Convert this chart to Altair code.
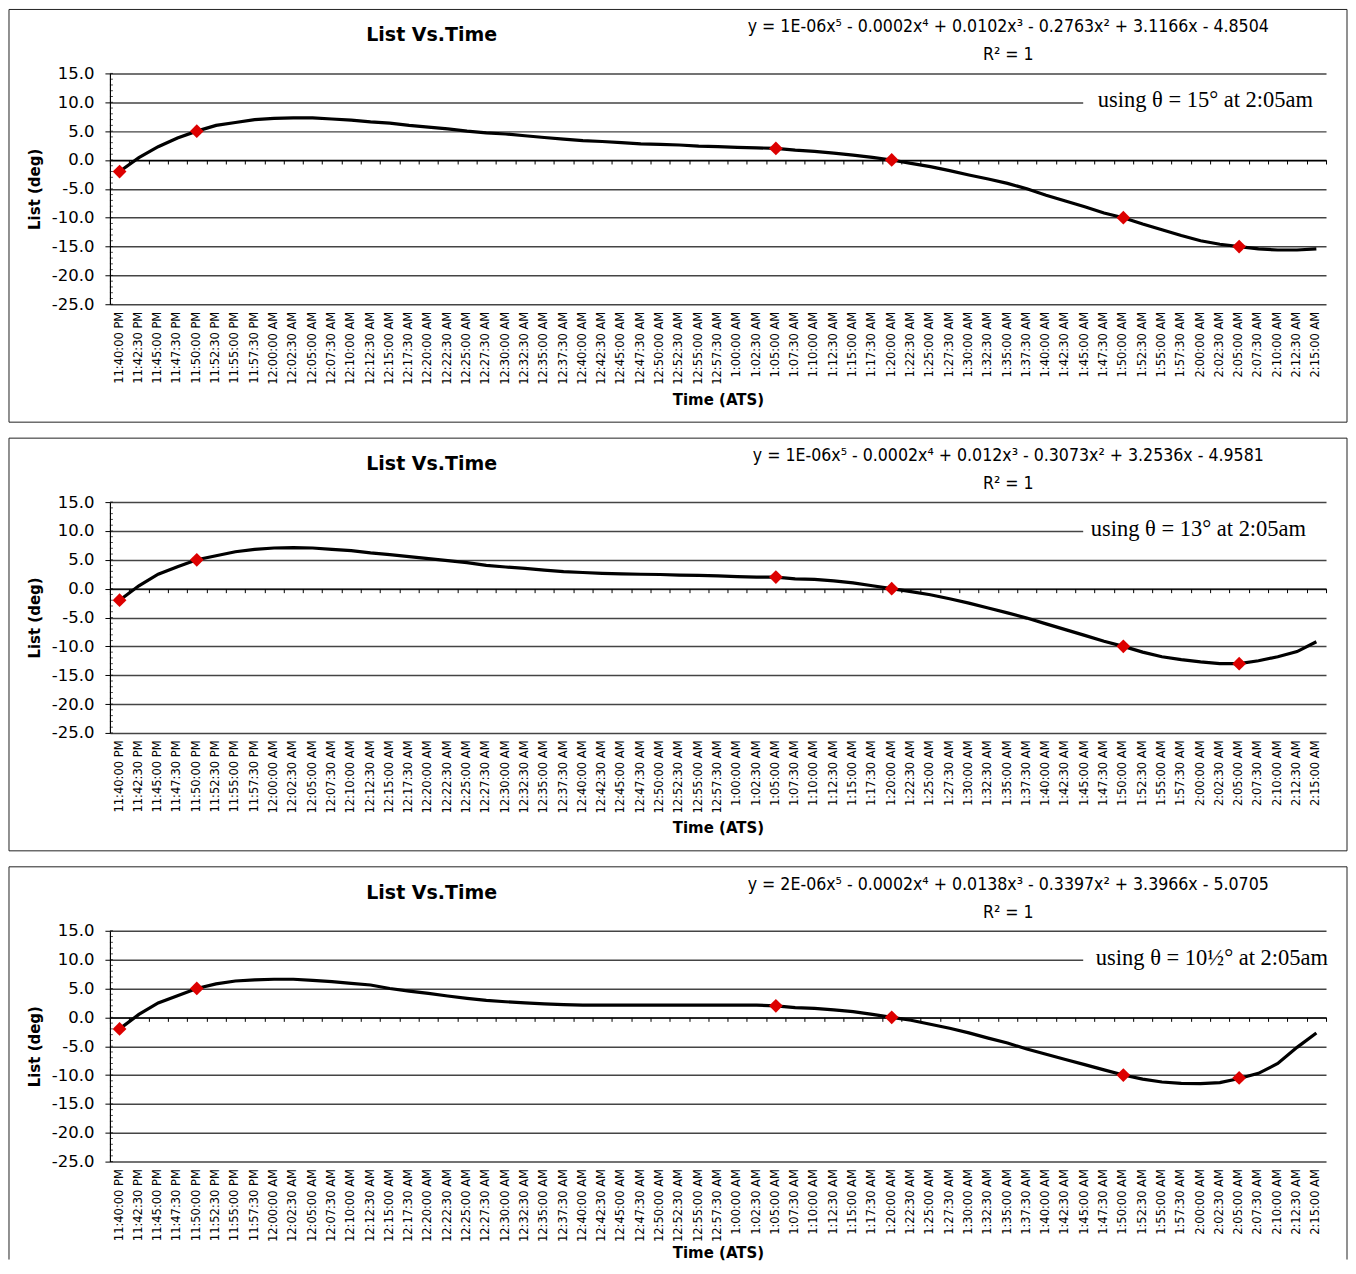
import altair as alt
import pandas as pd

# ---------------- data ----------------
times = [
    "11:40:00 PM", "11:42:30 PM", "11:45:00 PM", "11:47:30 PM", "11:50:00 PM", "11:52:30 PM",
    "11:55:00 PM", "11:57:30 PM", "12:00:00 AM", "12:02:30 AM", "12:05:00 AM", "12:07:30 AM",
    "12:10:00 AM", "12:12:30 AM", "12:15:00 AM", "12:17:30 AM", "12:20:00 AM", "12:22:30 AM",
    "12:25:00 AM", "12:27:30 AM", "12:30:00 AM", "12:32:30 AM", "12:35:00 AM", "12:37:30 AM",
    "12:40:00 AM", "12:42:30 AM", "12:45:00 AM", "12:47:30 AM", "12:50:00 AM", "12:52:30 AM",
    "12:55:00 AM", "12:57:30 AM", "1:00:00 AM", "1:02:30 AM", "1:05:00 AM", "1:07:30 AM",
    "1:10:00 AM", "1:12:30 AM", "1:15:00 AM", "1:17:30 AM", "1:20:00 AM", "1:22:30 AM",
    "1:25:00 AM", "1:27:30 AM", "1:30:00 AM", "1:32:30 AM", "1:35:00 AM", "1:37:30 AM",
    "1:40:00 AM", "1:42:30 AM", "1:45:00 AM", "1:47:30 AM", "1:50:00 AM", "1:52:30 AM",
    "1:55:00 AM", "1:57:30 AM", "2:00:00 AM", "2:02:30 AM", "2:05:00 AM", "2:07:30 AM",
    "2:10:00 AM", "2:12:30 AM", "2:15:00 AM",
]

fit_15 = [
    -2.0, 0.4, 2.3, 3.8, 5.0, 6.0, 6.5, 7.0, 7.2, 7.3, 7.3, 7.1, 6.9, 6.6, 6.4, 6.0,
    5.7, 5.4, 5.0, 4.7, 4.5, 4.2, 3.9, 3.6, 3.35, 3.2, 3.0, 2.8, 2.7, 2.6, 2.4, 2.3,
    2.2, 2.1, 2.0, 1.7, 1.5, 1.2, 0.85, 0.45, 0.0, -0.6, -1.15, -1.85, -2.6, -3.3,
    -4.05, -5.0, -6.1, -7.1, -8.1, -9.2, -10.0, -11.1, -12.1, -13.1, -14.0, -14.6,
    -15.0, -15.4, -15.6, -15.6, -15.4,
]
fit_13 = [
    -2.0, 0.5, 2.5, 3.8, 5.0, 5.7, 6.4, 6.8, 7.05, 7.1, 7.05, 6.8, 6.6, 6.2, 5.9, 5.55,
    5.2, 4.85, 4.5, 4.05, 3.75, 3.5, 3.2, 2.95, 2.8, 2.65, 2.55, 2.5, 2.45, 2.35, 2.3, 2.2,
    2.1, 2.0, 2.0, 1.7, 1.6, 1.35, 1.0, 0.5, 0.0, -0.5, -1.05, -1.75, -2.5, -3.35,
    -4.2, -5.1, -6.1, -7.1, -8.1, -9.1, -10.0, -11.0, -11.8, -12.3, -12.7, -13.0,
    -13.0, -12.5, -11.8, -10.9, -9.2,
]
fit_105 = [
    -2.0, 0.5, 2.5, 3.75, 5.0, 5.8, 6.3, 6.5, 6.6, 6.6, 6.4, 6.2, 5.9, 5.6, 5.0, 4.55,
    4.15, 3.7, 3.3, 2.95, 2.7, 2.5, 2.35, 2.2, 2.1, 2.1, 2.1, 2.1, 2.1, 2.1, 2.1, 2.1,
    2.1, 2.1, 2.0, 1.7, 1.55, 1.3, 1.0, 0.5, 0.0, -0.5, -1.2, -1.9, -2.7, -3.6,
    -4.45, -5.5, -6.4, -7.3, -8.2, -9.1, -10.0, -10.7, -11.2, -11.45, -11.5, -11.3,
    -10.6, -9.7, -8.0, -5.2, -2.7,
]

point_times = ["11:40:00 PM", "11:50:00 PM", "1:05:00 AM", "1:20:00 AM", "1:50:00 AM", "2:05:00 AM"]
obs_15 = [-2.0, 5.0, 2.0, 0.0, -10.0, -15.0]
obs_13 = [-2.0, 5.0, 2.0, 0.0, -10.0, -13.0]
obs_105 = [-2.0, 5.0, 2.0, 0.0, -10.0, -10.5]

equations = [
    "y = 1E-06x\u2075 - 0.0002x\u2074 + 0.0102x\u00b3 - 0.2763x\u00b2 + 3.1166x - 4.8504",
    "y = 1E-06x\u2075 - 0.0002x\u2074 + 0.012x\u00b3 - 0.3073x\u00b2 + 3.2536x - 4.9581",
    "y = 2E-06x\u2075 - 0.0002x\u2074 + 0.0138x\u00b3 - 0.3397x\u00b2 + 3.3966x - 5.0705",
]
notes = [
    "using \u03b8 = 15\u00b0 at 2:05am",
    "using \u03b8 = 13\u00b0 at 2:05am",
    "using \u03b8 = 10\u00bd\u00b0 at 2:05am",
]
y_ticks = [-25, -20, -15, -10, -5, 0, 5, 10, 15]
y_minor_ticks = list(range(-25, 16))

# ---------------- layout ----------------
W, H = 1217, 231
YMIN, YMAX = -25, 15
SANS = "DejaVu Sans"
FRAME_TOP = -64
FRAME_LEFT = -101
FRAME_RIGHT = 1238


def panel(fit_vals, obs_vals, eq, note, note_right, frame_bottom, bottom_edge=True, title_pad=8):
    line_df = pd.DataFrame({"time": times, "list": fit_vals})
    pt_df = pd.DataFrame({"time": point_times, "list": obs_vals})
    minor_df = pd.DataFrame({"v": y_minor_ticks})
    one = pd.DataFrame({"k": [0]})

    xscale = alt.Scale(type="band", domain=times, paddingInner=0, paddingOuter=0)
    yscale = alt.Scale(domain=[YMIN, YMAX], nice=False, zero=False)

    line = alt.Chart(line_df).mark_line(color="black", strokeWidth=3.2).encode(
        x=alt.X("time:N", scale=xscale, title="Time (ATS)",
                axis=alt.Axis(orient="bottom", labelAngle=270, labelFont=SANS, labelFontSize=11.5,
                              labelColor="black", labelPadding=7, labelOverlap=False,
                              ticks=False, domain=False, grid=False,
                              titleFont=SANS, titleFontSize=15, titleFontWeight="bold",
                              titleColor="black", titlePadding=title_pad)),
        y=alt.Y("list:Q", scale=yscale, title="List (deg)",
                axis=alt.Axis(orient="left", values=y_ticks,
                              labelExpr="(datum.value < 0 ? '-' : '') + format(abs(datum.value), '.1f')",
                              grid=True, gridColor="#444444", gridWidth=1.5,
                              domain=True, domainColor="black", domainWidth=1.2,
                              ticks=True, tickColor="black", tickSize=5,
                              labelFont=SANS, labelFontSize=16.5, labelColor="black", labelPadding=11,
                              titleFont=SANS, titleFontSize=15, titleFontWeight="bold",
                              titleColor="black", titlePadding=9)),
    )

    pts = alt.Chart(pt_df).mark_point(shape="diamond", filled=True, size=190, color="#dd0000",
                                      opacity=1).encode(
        x=alt.X("time:N", scale=xscale, title=None,
                axis=alt.Axis(orient="bottom", offset=-(H * (0 - YMIN) / (YMAX - YMIN)),
                              labels=False, ticks=True, tickBand="extent", tickSize=4,
                              tickColor="black", domain=True, domainColor="black",
                              domainWidth=1.4, grid=False)),
        y=alt.Y("list:Q", scale=yscale, axis=None),
    )

    minor = alt.Chart(minor_df).mark_tick(color="black", size=3, thickness=1,
                                          orient="horizontal").encode(
        y=alt.Y("v:Q", scale=yscale, axis=None), x=alt.value(1.5)
    )

    if bottom_edge:
        frame = alt.Chart(one).mark_rect(fillOpacity=0, stroke="#222222", strokeWidth=1).encode(
            x=alt.value(FRAME_LEFT), x2=alt.value(FRAME_RIGHT),
            y=alt.value(FRAME_TOP), y2=alt.value(frame_bottom)
        )
        frames = [frame]
    else:
        edge = alt.Chart(one).mark_rule(color="#222222", strokeWidth=1)
        frames = [
            edge.encode(x=alt.value(FRAME_LEFT), x2=alt.value(FRAME_RIGHT),
                        y=alt.value(FRAME_TOP), y2=alt.value(FRAME_TOP)),
            edge.encode(x=alt.value(FRAME_LEFT), x2=alt.value(FRAME_LEFT),
                        y=alt.value(FRAME_TOP), y2=alt.value(frame_bottom)),
            edge.encode(x=alt.value(FRAME_RIGHT), x2=alt.value(FRAME_RIGHT),
                        y=alt.value(FRAME_TOP), y2=alt.value(frame_bottom)),
        ]

    white = alt.Chart(one).mark_rect(color="white").encode(
        x=alt.value(974), x2=alt.value(W + 2), y=alt.value(16), y2=alt.value(40)
    )
    note_t = alt.Chart(one).mark_text(font="Liberation Serif", fontSize=22.5, align="right",
                                      baseline="middle", color="black").encode(
        x=alt.value(note_right), y=alt.value(27), text=alt.value(note)
    )
    title_t = alt.Chart(one).mark_text(font=SANS, fontSize=19, fontWeight="bold", align="center",
                                       baseline="middle", color="black").encode(
        x=alt.value(322), y=alt.value(-38), text=alt.value("List Vs.Time")
    )
    eq_t = alt.Chart(one).mark_text(font="DejaVu Sans Condensed", fontSize=17.6, align="center",
                                    baseline="middle", color="black").encode(
        x=alt.value(899), y=alt.value(-46), text=alt.value(eq)
    )
    r2_t = alt.Chart(one).mark_text(font="DejaVu Sans Condensed", fontSize=17.6, align="center",
                                    baseline="middle", color="black").encode(
        x=alt.value(899), y=alt.value(-18), text=alt.value("R\u00b2 = 1")
    )

    return alt.layer(line, minor, pts, *frames, white, note_t, title_t, eq_t, r2_t).resolve_axis(
        x="independent", y="independent"
    ).properties(width=W, height=H)


p1 = panel(fit_15, obs_15, equations[0], notes[0], 1204, 349)
p2 = panel(fit_13, obs_13, equations[1], notes[1], 1197, 349)
p3 = panel(fit_105, obs_105, equations[2], notes[2], 1219, 329, bottom_edge=False, title_pad=4)

chart = (
    alt.vconcat(p1, p2, p3, spacing=14, padding=0)
    .configure(padding=0)
    .configure_view(strokeWidth=0)
)

chart.save("out.html", embed_options={"renderer": "svg", "actions": False})
